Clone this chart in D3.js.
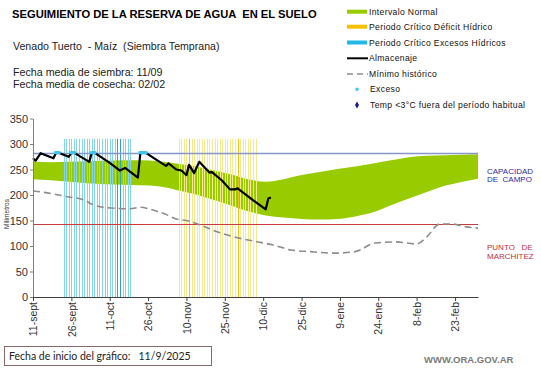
<!DOCTYPE html>
<html><head><meta charset="utf-8">
<script src="https://cdn.jsdelivr.net/npm/d3@7"></script>
<style>
body{margin:0;background:#fff;}
svg{display:block;font-family:"Liberation Sans",Arial,sans-serif;}
</style></head>
<body><svg id="c" width="541" height="368"></svg>
<script>
// ---- data ----
const domainDates = ["2025-09-11", "2026-03-04"];
const tickDates = ["2025-09-11","2025-09-26","2025-10-11","2025-10-26","2025-11-10","2025-11-25","2025-12-10","2025-12-25","2026-01-09","2026-01-24","2026-02-08","2026-02-23"];
const tickLabels = ["11-sept","26-sept","11-oct","26-oct","10-nov","25-nov","10-dic","25-dic","9-ene","24-ene","8-feb","23-feb"];
const yTicks = [0,50,100,150,200,250,300,350];

const bandDates = ["2025-09-11","2025-09-18","2025-09-25","2025-10-02","2025-10-09","2025-10-16","2025-10-23","2025-10-30","2025-11-06","2025-11-13","2025-11-20","2025-11-27","2025-12-04","2025-12-11","2025-12-18","2025-12-25","2026-01-01","2026-01-08","2026-01-15","2026-01-22","2026-01-29","2026-02-05","2026-02-12","2026-02-19","2026-02-26","2026-03-04"];
const normalLow  = [231,229,226,223,221,220,219,217,210,202,191,180,168,160,156,153,152,153,158,166,180,193,206,218,226,232];
const normalHigh = [265,264,265,266,267,268,268,266,262,257,249,241,231,226,231,239,245,251,256,262,268,274,277,278,279,280];

const minDates = ["2025-09-11","2025-09-18","2025-09-24","2025-10-01","2025-10-04","2025-10-10","2025-10-19","2025-10-23","2025-10-27","2025-11-02","2025-11-06","2025-11-10","2025-11-16","2025-11-22","2025-12-01","2025-12-08","2025-12-14","2025-12-21","2025-12-28","2026-01-07","2026-01-15","2026-01-23","2026-01-31","2026-02-08","2026-02-12","2026-02-17","2026-02-22","2026-02-27","2026-03-04"];
const minHist = [208,203,197,190,182,175,173,176,172,162,153,150,140,128,115,108,102,92,89,86,89,106,108,104,118,143,143,138,135];

const storDates = ["2025-09-11","2025-09-12","2025-09-14","2025-09-19","2025-09-20","2025-09-21","2025-09-25","2025-09-26","2025-09-27","2025-10-03","2025-10-04","2025-10-05","2025-10-11","2025-10-15","2025-10-17","2025-10-22","2025-10-23","2025-10-25","2025-10-29","2025-11-02","2025-11-03","2025-11-06","2025-11-08","2025-11-10","2025-11-11","2025-11-13","2025-11-15","2025-11-19","2025-11-20","2025-11-24","2025-11-27","2025-11-29","2025-11-30","2025-12-06","2025-12-11","2025-12-12","2025-12-13"];
const almacenaje = [272,267,282,272,283,283,275,283,283,265,283,283,263,248,253,234,283,283,270,257,262,250,248,239,259,243,265,244,245,228,211,211,213,190,172,193,195];

const excesoDates = ["2025-09-20","2025-09-21","2025-09-26","2025-09-27","2025-10-04","2025-10-05","2025-10-23","2025-10-24","2025-10-25"];
const excesoValue = 283;

const excessPeriod = ["2025-09-23","2025-10-19"];
const excessDark = ["2025-10-14","2025-10-15"];
const deficitPeriod = ["2025-11-07","2025-12-07"];
const deficitDark = ["2025-11-11","2025-11-30"];
const periodTop = 310;

const capacidadCampo = 283;
const puntoMarchitez = 144;

// ---- drawing ----
const parse = d3.timeParse("%Y-%m-%d");
const svg = d3.select("#c");
const x = d3.scaleTime().domain(domainDates.map(parse)).range([33, 478]);
const y = d3.scaleLinear().domain([0, 350]).range([297, 118.5]);

// band
const band = bandDates.map((d,i)=>({d:parse(d), lo:normalLow[i], hi:normalHigh[i]}));
svg.append("path").datum(band)
  .attr("fill","#99cc00")
  .attr("d", d3.area().curve(d3.curveMonotoneX).x(d=>x(d.d)).y0(d=>y(d.lo)).y1(d=>y(d.hi)));

// critical period lines
function periodLines(period, dark, light, darkCol){
  const days = d3.timeDay.range(parse(period[0]), d3.timeDay.offset(parse(period[1]),1));
  const darkSet = new Set(dark);
  const fmt = d3.timeFormat("%Y-%m-%d");
  svg.append("g").selectAll("line").data(days).join("line")
    .attr("x1", d=>Math.round(x(d))+0.5).attr("x2", d=>Math.round(x(d))+0.5)
    .attr("y1", y(0)).attr("y2", y(periodTop))
    .attr("stroke", d=>darkSet.has(fmt(d)) ? darkCol : light)
    .attr("stroke-width", 1);
}
periodLines(excessPeriod, excessDark, "#86d4e8", "#2aa6c4");
periodLines(deficitPeriod, deficitDark, "#f6ea90", "#eec41a");

// reference lines
svg.append("line").attr("x1",33).attr("x2",478).attr("y1",Math.round(y(capacidadCampo))+0.5).attr("y2",Math.round(y(capacidadCampo))+0.5)
  .attr("stroke","#8797cc").attr("stroke-width",1.5);
svg.append("line").attr("x1",33).attr("x2",478).attr("y1",Math.round(y(puntoMarchitez))+0.5).attr("y2",Math.round(y(puntoMarchitez))+0.5)
  .attr("stroke","#cc3a3c").attr("stroke-width",1);

// minimum historic
svg.append("path").datum(minDates.map((d,i)=>({d:parse(d), v:minHist[i]})))
  .attr("fill","none").attr("stroke","#8c8c8c").attr("stroke-width",1.6).attr("stroke-dasharray","7,4")
  .attr("d", d3.line().curve(d3.curveMonotoneX).x(d=>x(d.d)).y(d=>y(d.v)));

// storage
svg.append("path").datum(storDates.map((d,i)=>({d:parse(d), v:almacenaje[i]})))
  .attr("fill","none").attr("stroke","#000").attr("stroke-width",2.2).attr("stroke-linejoin","round")
  .attr("d", d3.line().x(d=>x(d.d)).y(d=>y(d.v)));

// exceso markers
svg.append("g").selectAll("rect").data(excesoDates.map(parse)).join("rect")
  .attr("x", d=>x(d)-2).attr("y", y(excesoValue)-1.5).attr("width",4).attr("height",3)
  .attr("fill","#3cc8ee");

// axes
const yAxis = svg.append("g").attr("transform","translate(33,0)")
  .call(d3.axisLeft(y).tickValues(yTicks).tickSize(3).tickSizeOuter(0));
yAxis.select(".domain").attr("stroke","#7f7f7f");
yAxis.selectAll(".tick line").attr("stroke","#7f7f7f");
yAxis.selectAll("text").attr("font-size","11px").attr("fill","#333").attr("font-family","Liberation Sans, Arial, sans-serif").attr("x",-5);

const xAxis = svg.append("g").attr("transform","translate(0,"+y(0)+")")
  .call(d3.axisBottom(x).tickValues(tickDates.map(parse)).tickSize(4).tickSizeOuter(0)
        .tickFormat((d,i)=>tickLabels[i]));
xAxis.select(".domain").attr("stroke","#404040");
xAxis.selectAll(".tick line").attr("stroke","#404040");
xAxis.selectAll("text").attr("font-size","10.5px").attr("fill","#333")
  .attr("font-family","Liberation Sans, Arial, sans-serif")
  .attr("text-anchor","end").attr("transform","rotate(-90)")
  .attr("x",-5).attr("y",0).attr("dy","0.35em");

// y label
svg.append("text").attr("transform","translate(9,214) rotate(-90)").attr("text-anchor","middle")
  .attr("font-size","6.5px").attr("fill","#333").text("Milímetros");

// titles
svg.append("text").attr("x",12).attr("y",18).attr("font-size","11.2px").attr("font-weight","bold").attr("fill","#000")
  .text("SEGUIMIENTO DE LA RESERVA DE AGUA  EN EL SUELO").style("white-space","pre");
svg.append("text").attr("x",13).attr("y",49.5).attr("font-size","10.6px").attr("fill","#222")
  .text("Venado Tuerto  - Maíz  (Siembra Temprana)").style("white-space","pre");
svg.append("text").attr("x",13).attr("y",76).attr("font-size","10.7px").attr("fill","#222")
  .text("Fecha media de siembra: 11/09");
svg.append("text").attr("x",13).attr("y",88).attr("font-size","10.7px").attr("fill","#222")
  .text("Fecha media de cosecha: 02/02");

// legend
const legendItems = [
  {t:"Intervalo Normal", type:"rect", c:"#99cc00", y:11.7},
  {t:"Periodo Crítico Déficit Hídrico", type:"rect", c:"#f5c200", y:26.7},
  {t:"Periodo Crítico Excesos Hídricos", type:"rect", c:"#22b8e6", y:42.5},
  {t:"Almacenaje", type:"line", c:"#000", y:58.3},
  {t:"Mínimo histórico", type:"dash", c:"#8c8c8c", y:74},
  {t:"Exceso", type:"sq", c:"#3cc8ee", y:89.3},
  {t:"Temp <3°C fuera del período habitual", type:"dia", c:"#1a1a9a", y:105}
];
const lg = svg.append("g");
legendItems.forEach(it=>{
  if(it.type==="rect") lg.append("rect").attr("x",347).attr("y",it.y-2).attr("width",20).attr("height",4).attr("fill",it.c);
  if(it.type==="line") lg.append("line").attr("x1",347).attr("x2",368).attr("y1",it.y).attr("y2",it.y).attr("stroke",it.c).attr("stroke-width",2);
  if(it.type==="dash") lg.append("line").attr("x1",347).attr("x2",368).attr("y1",it.y).attr("y2",it.y).attr("stroke",it.c).attr("stroke-width",1.5).attr("stroke-dasharray","6,4");
  if(it.type==="sq") lg.append("rect").attr("x",355.5).attr("y",it.y-1.5).attr("width",3).attr("height",3).attr("fill",it.c);
  if(it.type==="dia") lg.append("path").attr("d",d3.symbol(d3.symbolDiamond,14)()).attr("transform","translate(357,"+it.y+")").attr("fill",it.c);
  lg.append("text").attr("x", (it.type==="sq"||it.type==="dia")?370:369).attr("y",it.y).attr("dy","0.35em")
    .attr("font-size","8.6px").attr("letter-spacing","0.35px").attr("fill","#111").text(it.t);
});

// right labels
svg.append("text").attr("x",487).attr("y",173.5).attr("font-size","8px").attr("fill","#2b2ba0").text("CAPACIDAD");
svg.append("text").attr("x",487).attr("y",181.8).attr("font-size","8px").attr("fill","#2b2ba0").text("DE  CAMPO").style("white-space","pre");
svg.append("text").attr("x",487).attr("y",249.5).attr("font-size","8px").attr("fill","#c0303a").text("PUNTO   DE").style("white-space","pre");
svg.append("text").attr("x",487).attr("y",258.5).attr("font-size","8px").attr("fill","#c0303a").text("MARCHITEZ");

// bottom box
svg.append("rect").attr("x",4.5).attr("y",346.5).attr("width",207).attr("height",19).attr("fill","#fff").attr("stroke","#8a6a6a").attr("stroke-width",1);
svg.append("text").attr("x",9).attr("y",360).attr("font-size","10.5px").attr("font-family","Lato, 'Open Sans', sans-serif").attr("fill","#222")
  .text("Fecha de inicio del gráfico:   11/9/2025").style("white-space","pre");
svg.append("text").attr("x",424).attr("y",363).attr("font-size","9.5px").attr("font-weight","bold").attr("fill","#7a7a7a").text("WWW.ORA.GOV.AR");
</script></body></html>
